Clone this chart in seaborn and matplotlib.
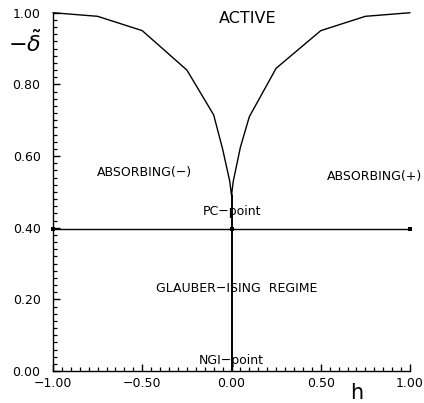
import matplotlib
matplotlib.use("Agg")
import matplotlib.pyplot as plt
import seaborn as sns
import pandas as pd
from matplotlib.ticker import MultipleLocator, FixedLocator

# ---- data ----
h_curve = [-1.0, -0.75, -0.5, -0.25, -0.1, -0.05, -0.01, 0.0, 0.01, 0.05, 0.1, 0.25, 0.5, 0.75, 1.0]
delta_curve = [1.0, 0.99, 0.95, 0.84, 0.715, 0.62, 0.53, 0.49, 0.53, 0.625, 0.71, 0.845, 0.95, 0.99, 1.0]
h_vert = [0.0, 0.0]
delta_vert = [0.0, 0.49]
h_horiz = [-1.0, 0.0, 1.0]
delta_horiz = [0.395, 0.395, 0.395]
x_ticks = [-1.0, -0.5, 0.0, 0.5, 1.0]
x_ticklabels = ["\u22121.00", "\u22120.50", "0.00", "0.50", "1.00"]
y_ticks = [0.0, 0.2, 0.4, 0.6, 0.8, 1.0]
y_ticklabels = ["0.00", "0.20", "0.40", "0.60", "0.80", "1.00"]

sns.set_style("ticks")
plt.rcParams["font.family"] = ["DejaVu Sans"]
plt.rcParams["text.color"] = "black"

fig = plt.figure(figsize=(4.24, 4.03), dpi=100)
ax = fig.add_axes([0.125, 0.0794, 0.842, 0.889])

df_c = pd.DataFrame({"h": h_curve, "d": delta_curve})
df_v = pd.DataFrame({"h": h_vert, "d": delta_vert})
df_h = pd.DataFrame({"h": h_horiz, "d": delta_horiz})

sns.lineplot(data=df_c, x="h", y="d", sort=False, estimator=None, color="black", lw=1.0, ax=ax, clip_on=False)
sns.lineplot(data=df_v, x="h", y="d", sort=False, estimator=None, color="black", lw=1.4, ax=ax, clip_on=False)
sns.lineplot(data=df_h, x="h", y="d", sort=False, estimator=None, color="black", lw=1.0, ax=ax,
             marker="s", markersize=3, markeredgewidth=0, clip_on=False)

ax.set_xlim(-1, 1)
ax.set_ylim(0, 1)
ax.set_xlabel("")
ax.set_ylabel("")
sns.despine(ax=ax)
for s in ["left", "bottom"]:
    ax.spines[s].set_linewidth(1.0)
    ax.spines[s].set_color("black")

ax.xaxis.set_major_locator(FixedLocator(x_ticks))
ax.set_xticklabels(x_ticklabels)
ax.yaxis.set_major_locator(FixedLocator(y_ticks))
ax.set_yticklabels(y_ticklabels)
ax.xaxis.set_minor_locator(MultipleLocator(0.05))
ax.yaxis.set_minor_locator(MultipleLocator(0.02))
ax.tick_params(which="major", direction="in", length=5, width=1.0, labelsize=9, colors="black")
ax.tick_params(which="minor", direction="in", length=3, width=0.9, colors="black")
ax.tick_params(axis="y", which="major", pad=9)
ax.tick_params(axis="x", which="major", pad=4)

# annotations
fs = 9
ax.text(0.09, 0.985, "ACTIVE", fontsize=11.5, ha="center", va="center")
ax.text(-0.49, 0.553, "ABSORBING(\u2212)", fontsize=fs, ha="center", va="center")
ax.text(0.80, 0.542, "ABSORBING(+)", fontsize=fs, ha="center", va="center")
ax.text(0.0, 0.445, "PC\u2212point", fontsize=fs, ha="center", va="center")
ax.text(0.03, 0.23, "GLAUBER\u2212ISING  REGIME", fontsize=fs, ha="center", va="center")
ax.text(0.0, 0.03, "NGI\u2212point", fontsize=fs, ha="center", va="center")

# axis labels placed as in the figure
ax.text(-1.16, 0.915, r"$-\tilde{\delta}$", fontsize=16, ha="center", va="center", clip_on=False)
ax.text(0.70, -0.062, "h", fontsize=15, ha="center", va="center", clip_on=False)

fig.savefig("out.png", dpi=100)
